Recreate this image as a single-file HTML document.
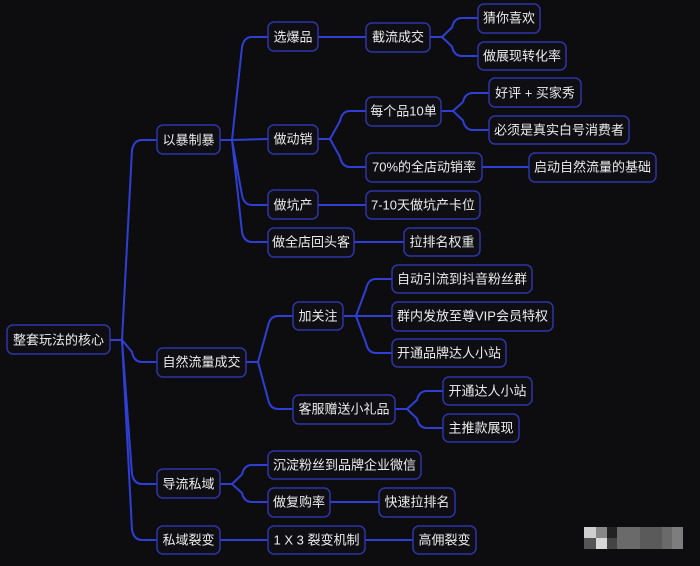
<!DOCTYPE html>
<html><head><meta charset="utf-8"><style>
html,body{margin:0;padding:0;background:#0d0d0f;}
svg{display:block}
text{font-family:"Liberation Sans","Noto Sans CJK SC",sans-serif;font-size:13px;fill:#ececec;dominant-baseline:central;text-anchor:middle}
rect.n{fill:#0f0f13;stroke:#2e35a8;stroke-width:1.5}
path{fill:none;stroke:#2f3fd6;stroke-width:2}
</style></head><body>
<svg id="s" width="700" height="566" viewBox="0 0 700 566" xmlns="http://www.w3.org/2000/svg">
<g id="edges"></g>
<rect class="n" x="7" y="325" width="103" height="29" rx="6"/><text x="58.5" y="340">整套玩法的核心</text>
<rect class="n" x="157" y="125" width="63" height="29" rx="6"/><text x="188.5" y="140">以暴制暴</text>
<rect class="n" x="268" y="22" width="50" height="29" rx="6"/><text x="293" y="37">选爆品</text>
<rect class="n" x="268" y="125" width="50" height="29" rx="6"/><text x="293" y="139">做动销</text>
<rect class="n" x="268" y="190" width="50" height="29" rx="6"/><text x="293" y="205">做坑产</text>
<rect class="n" x="268" y="228" width="86" height="29" rx="6"/><text x="311" y="242">做全店回头客</text>
<rect class="n" x="366" y="23" width="64" height="29" rx="6"/><text x="398" y="37">截流成交</text>
<rect class="n" x="478" y="4" width="62" height="29" rx="6"/><text x="509" y="18">猜你喜欢</text>
<rect class="n" x="478" y="42" width="88" height="28" rx="6"/><text x="522" y="56">做展现转化率</text>
<rect class="n" x="366" y="97" width="75" height="29" rx="6"/><text x="403.5" y="111">每个品10单</text>
<rect class="n" x="489" y="78" width="92" height="29" rx="6"/><text x="535" y="93">好评 + 买家秀</text>
<rect class="n" x="489" y="116" width="140" height="28" rx="6"/><text x="559" y="130">必须是真实白号消费者</text>
<rect class="n" x="366" y="153" width="116" height="29" rx="6"/><text x="424" y="167">70%的全店动销率</text>
<rect class="n" x="529" y="153" width="127" height="29" rx="6"/><text x="592.5" y="167">启动自然流量的基础</text>
<rect class="n" x="366" y="191" width="114" height="28" rx="6"/><text x="423" y="205">7-10天做坑产卡位</text>
<rect class="n" x="404" y="228" width="76" height="28" rx="6"/><text x="442" y="242">拉排名权重</text>
<rect class="n" x="157" y="348" width="89" height="29" rx="6"/><text x="201.5" y="362">自然流量成交</text>
<rect class="n" x="293" y="302" width="50" height="28" rx="6"/><text x="318" y="316">加关注</text>
<rect class="n" x="293" y="395" width="102" height="29" rx="6"/><text x="344" y="409">客服赠送小礼品</text>
<rect class="n" x="392" y="265" width="140" height="28" rx="6"/><text x="462" y="279">自动引流到抖音粉丝群</text>
<rect class="n" x="392" y="302" width="161" height="29" rx="6"/><text x="472.5" y="316">群内发放至尊VIP会员特权</text>
<rect class="n" x="392" y="339" width="114" height="28" rx="6"/><text x="449" y="353">开通品牌达人小站</text>
<rect class="n" x="443" y="377" width="89" height="28" rx="6"/><text x="487.5" y="391">开通达人小站</text>
<rect class="n" x="443" y="414" width="76" height="28" rx="6"/><text x="481" y="428">主推款展现</text>
<rect class="n" x="157" y="469" width="63" height="29" rx="6"/><text x="188.5" y="484">导流私域</text>
<rect class="n" x="268" y="451" width="153" height="28" rx="6"/><text x="344.5" y="465">沉淀粉丝到品牌企业微信</text>
<rect class="n" x="268" y="488" width="62" height="29" rx="6"/><text x="299" y="502">做复购率</text>
<rect class="n" x="379" y="488" width="76" height="29" rx="6"/><text x="417" y="502">快速拉排名</text>
<rect class="n" x="157" y="526" width="63" height="28" rx="6"/><text x="188.5" y="540">私域裂变</text>
<rect class="n" x="268" y="526" width="97" height="28" rx="6"/><text x="316.5" y="540">1 X 3 裂变机制</text>
<rect class="n" x="413" y="526" width="63" height="28" rx="6"/><text x="444.5" y="540">高佣裂变</text>
<g>
<rect x="584" y="527" width="12" height="11" fill="#cfcfcf"/><rect x="596" y="527" width="11" height="11" fill="#888"/><rect x="607" y="527" width="10" height="11" fill="#222"/>
<rect x="617" y="527" width="66" height="22" fill="#6a6a6a"/>
<rect x="584" y="538" width="12" height="11" fill="#555"/><rect x="596" y="538" width="11" height="11" fill="#d8d8d8"/><rect x="607" y="538" width="10" height="11" fill="#444"/>
<rect x="640" y="527" width="22" height="22" fill="#5a5a5a"/><rect x="672" y="527" width="11" height="22" fill="#7d7d7d"/>
</g>
</svg>
<script>
var E=[[110,340,122,157,[140,362,484,540]],[220,140,232,268,[37,139,205,242]],[318,37,366,366,[37]],
[430,37,442,478,[18,56]],[318,139,330,366,[111,167]],[441,111,453,489,[93,130]],[482,167,529,529,[167]],
[318,205,366,366,[205]],[354,242,404,404,[242]],[246,362,258,293,[316,409]],[344,316,356,392,[279,316,353]],
[395,409,407,443,[391,428]],[220,484,232,268,[465,502]],[330,502,379,379,[502]],[220,540,268,268,[540]],[365,540,413,413,[540]]];
var g=document.getElementById('edges'),h='';
E.forEach(function(e){var px=e[0],py=e[1],bx=e[2],cx=e[3];
e[4].forEach(function(cy){var d='M'+px+','+py+' L'+bx+','+py;
if(Math.abs(cy-py)<2){d+=' L'+cx+','+cy;}else{var s=cy>py?1:-1,r=Math.min(10,Math.abs(cy-py)/2),x1=bx+Math.min(10,(cx-bx)*0.35);
d+=' L'+x1+','+(cy-s*r)+' Q'+(x1+2)+','+cy+' '+(x1+10)+','+cy+' L'+cx+','+cy;}
h+='<path d="'+d+'"/>';});});
g.innerHTML=h;
</script>
</body></html>
